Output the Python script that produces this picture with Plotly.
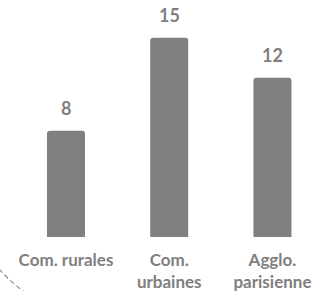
import plotly.graph_objects as go

categories = ["Com. rurales", "Com.<br>urbaines", "Agglo.<br>parisienne"]
values = [8, 15, 12]
value_labels = ["8", "15", "12"]

GRAY = "#7f7f7f"
FONT = "Lato"
W, H = 312, 291
MB = 54
PH = H - MB

fig = go.Figure(go.Bar(
    x=categories, y=values, marker=dict(color=GRAY, line=dict(width=0)),
    width=0.368, hoverinfo="skip",
))

for c, v, t in zip(categories, values, value_labels):
    fig.add_annotation(x=c, y=v, text=t, showarrow=False, yanchor="bottom",
                       yshift=10, font=dict(family=FONT, size=18, color=GRAY, weight="bold"))

def px(x):
    return x / W

def py(y):
    return (PH - y) / PH

path = f"M {px(-1)},{py(269)} Q {px(10)},{py(281)} {px(24)},{py(292)}"
fig.add_shape(type="path", path=path, xref="paper", yref="paper",
              line=dict(color="#8c8c8c", width=1.2, dash="5px,3px"))

fig.update_layout(
    width=W, height=H, margin=dict(l=0, r=0, t=0, b=MB),
    paper_bgcolor="white", plot_bgcolor="white",
    barcornerradius=3, showlegend=False,
    xaxis=dict(range=[-0.639, 2.383], showgrid=False, zeroline=False, showline=False,
               ticks="", tickfont=dict(family=FONT, size=17, color=GRAY, weight="bold"),
               ticklabelstandoff=11),
    yaxis=dict(range=[0, 17.85], visible=False),
)

fig.write_html("out.html", config={"displayModeBar": False},
               post_script="document.body.style.margin='0';")
